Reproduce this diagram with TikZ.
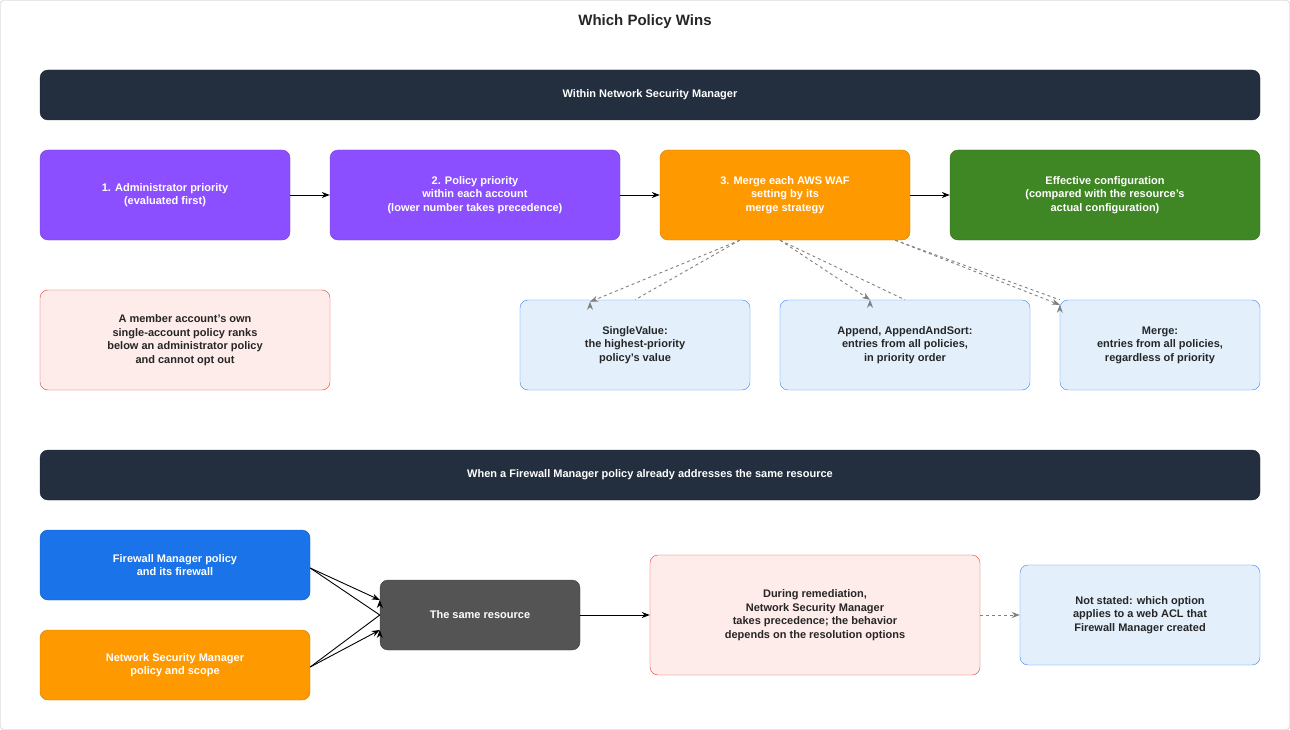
\documentclass[tikz,border=0pt]{standalone}
\usepackage{fontspec}
\setmainfont{Liberation Sans}
\usetikzlibrary{arrows.meta}
\definecolor{navy}{HTML}{232F3E}
\definecolor{purp}{HTML}{8C4FFF}
\definecolor{orng}{HTML}{FF9900}
\definecolor{grn}{HTML}{3F8624}
\definecolor{redf}{HTML}{FDECEA}
\definecolor{redb}{HTML}{E0443A}
\definecolor{bluf}{HTML}{E3F0FC}
\definecolor{blub}{HTML}{3B82F6}
\definecolor{fmb}{HTML}{1A73E8}
\definecolor{gry}{HTML}{545454}
\tikzset{
 box/.style={rounded corners=8pt,draw,align=center,font=\bfseries\fontsize{11}{13.5}\selectfont,inner sep=0pt},
 dk/.style={box,fill=#1,draw=#1!80!black,text=white},
 lt/.style={box,fill=#1f,draw=#1b,text=black!85},
 arr/.style={-{Stealth[length=8pt,width=6pt]},line width=0.9pt},
 darr/.style={arr,dashed,draw=gray,color=gray},
}
\newcommand\bx[6]{\node[#1,minimum width=#4pt-#2pt,minimum height=#5pt-#3pt] (#6) at ({(#2+#4)/2*1pt},{-(#3+#5)/2*1pt})}
\begin{document}
\begin{tikzpicture}[x=1pt,y=1pt]
\useasboundingbox (0,0) rectangle (1290,-730);
\draw[black!25,rounded corners=3pt] (0.5,-0.5) rectangle (1289.5,-729.5);
\node[font=\bfseries\fontsize{15}{18}\selectfont,text=black!85] (title) at (645,-22) {Which Policy Wins};
\bx{dk=navy}{40}{70}{1260}{120}{b1} {Within Network Security Manager};
\bx{dk=purp}{40}{150}{290}{240}{p1} {1. Administrator priority\\(evaluated first)};
\bx{dk=purp}{330}{150}{620}{240}{p2} {2. Policy priority\\within each account\\(lower number takes precedence)};
\bx{dk=orng}{660}{150}{910}{240}{p3} {3. Merge each AWS WAF\\setting by its\\merge strategy};
\bx{dk=grn}{950}{150}{1260}{240}{p4} {Effective configuration\\(compared with the resource's\\actual configuration)};
\bx{lt=red}{40}{290}{330}{390}{m} {A member account's own\\single-account policy ranks\\below an administrator policy\\and cannot opt out};
\bx{lt=blu}{520}{300}{750}{390}{s1} {SingleValue:\\the highest-priority\\policy's value};
\bx{lt=blu}{780}{300}{1030}{390}{s2} {Append, AppendAndSort:\\entries from all policies,\\in priority order};
\bx{lt=blu}{1060}{300}{1260}{390}{s3} {Merge:\\entries from all policies,\\regardless of priority};
\bx{dk=navy}{40}{450}{1260}{500}{b2} {When a Firewall Manager policy already addresses the same resource};
\bx{dk=fmb}{40}{530}{310}{600}{fm} {Firewall Manager policy\\and its firewall};
\bx{dk=orng}{40}{630}{310}{700}{ns} {Network Security Manager\\policy and scope};
\bx{dk=gry}{380}{580}{580}{650}{sr} {The same resource};
\bx{lt=red}{650}{555}{980}{675}{dr} {During remediation,\\Network Security Manager\\takes precedence; the behavior\\depends on the resolution options};
\bx{lt=blu}{1020}{565}{1260}{665}{nt} {Not stated: which option\\applies to a web ACL that\\Firewall Manager created};
\draw[arr] (p1) -- (p2);
\draw[arr] (p2) -- (p3);
\draw[arr] (p3) -- (p4);
\draw[darr] (p3.south west)++(80,0) coordinate (a1) -- (s1.north)++(-45,-2) coordinate (e1);
\draw[darr] (a1) -- (e1);
\draw[darr] (p3.south)++(-5,0) coordinate (a2) -- (s2.north)++(-35,0) coordinate (e2);
\draw[darr] (a2) -- (e2);
\draw[darr] (p3.south east)++(-15,0) coordinate (a3) -- (s3.north west)++(0,-5) coordinate (e3);
\draw[darr] (a3) -- (e3);
\draw[arr] (fm.east)++(0,-3) coordinate (f1) -- (sr.west)++(0,15) coordinate (f2);
\draw[arr] (f1) -- (f2);
\draw[arr] (ns.east)++(0,-2) coordinate (g1) -- (sr.west)++(0,-15) coordinate (g2);
\draw[arr] (g1) -- (g2);
\draw[arr] (sr) -- (dr);
\draw[darr] (dr) -- (nt);
\end{tikzpicture}
\end{document}
